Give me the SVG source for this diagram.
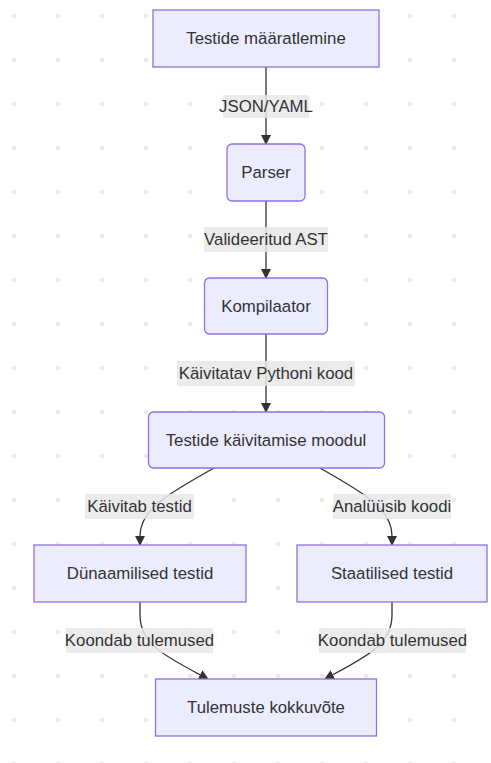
<svg xmlns="http://www.w3.org/2000/svg" width="491" height="763" viewBox="0 0 491 763">
<defs>
<pattern id="dots" x="12" y="14" width="44" height="44" patternUnits="userSpaceOnUse">
<rect width="4" height="4" fill="#ebebeb"/>
</pattern>
<marker id="arr" viewBox="0 0 10 10" refX="9" refY="5" markerWidth="10" markerHeight="10" markerUnits="userSpaceOnUse" orient="auto">
<path d="M0,0 L10,5 L0,10 z" fill="#333"/>
</marker>
</defs>
<style>
.node rect{fill:#ECECFF;stroke:#9370DB;stroke-width:1.3}
.node text,.lbl text{font-family:"Liberation Sans",Arial,sans-serif;font-size:16.8px;fill:#333;text-anchor:middle;dominant-baseline:central}
.lbl rect{fill:#e8e8e8;opacity:0.85}
.edges path{fill:none;stroke:#333;stroke-width:1.3;marker-end:url(#arr)}
</style>
<rect width="491" height="763" fill="#fff"/>
<rect width="491" height="763" fill="url(#dots)"/>
<g class="edges">
<path d="M266,67 L266,144"/>
<path d="M266,201 L266,278"/>
<path d="M266,334 L266,412"/>
<path d="M214,468 C172,492 140,508 140,536 L140,545"/>
<path d="M320,468 C362,492 392,508 392,536 L392,545"/>
<path d="M140,602 L140,615 C140,645 165,656 208,679"/>
<path d="M392,602 L392,615 C392,645 367,656 325,679"/>
</g>
<g class="lbl">
<rect x="223" y="95" width="86" height="23"/><text x="266" y="106.5">JSON/YAML</text>
<rect x="204" y="227" width="124" height="25"/><text x="266" y="239.5">Valideeritud AST</text>
<rect x="177" y="361" width="178" height="25"/><text x="266" y="373.5">Käivitatav Pythoni kood</text>
<rect x="85" y="494" width="109" height="25"/><text x="139.5" y="506.5">Käivitab testid</text>
<rect x="333" y="494" width="118" height="25"/><text x="392" y="506.5">Analüüsib koodi</text>
<rect x="66" y="628" width="147" height="25"/><text x="139.5" y="640.5">Koondab tulemused</text>
<rect x="319" y="628" width="147" height="25"/><text x="392.5" y="640.5">Koondab tulemused</text>
</g>
<g id="n1" class="node"><rect x="153" y="10" width="226" height="57"/><text x="266" y="38.5">Testide määratlemine</text></g>
<g id="n2" class="node"><rect x="227" y="144" width="78" height="57" rx="5"/><text x="266" y="172.5">Parser</text></g>
<g id="n3" class="node"><rect x="204.5" y="278" width="123" height="56" rx="5"/><text x="266" y="306">Kompilaator</text></g>
<g id="n4" class="node"><rect x="148.5" y="412" width="236" height="56" rx="5"/><text x="266" y="440">Testide käivitamise moodul</text></g>
<g id="n5" class="node"><rect x="34" y="545" width="212" height="57"/><text x="140" y="573.5">Dünaamilised testid</text></g>
<g id="n6" class="node"><rect x="297" y="545" width="190" height="57"/><text x="392" y="573.5">Staatilised testid</text></g>
<g id="n7" class="node"><rect x="155.5" y="679" width="221" height="57"/><text x="266" y="707.5">Tulemuste kokkuvõte</text></g>
</svg>
